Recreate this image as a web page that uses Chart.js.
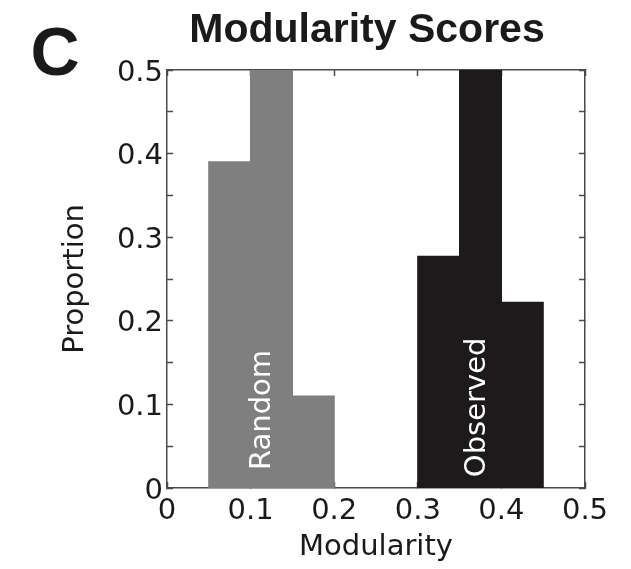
<!DOCTYPE html>
<html>
<head>
<meta charset="utf-8">
<title>Modularity Scores</title>
<script src="https://cdn.jsdelivr.net/npm/chart.js@4.4.1/dist/chart.umd.min.js"></script>
<style>
  html, body { margin: 0; padding: 0; background: #fff; }
  canvas { display: block; }
</style>
</head>
<body>
<canvas id="hist" width="631" height="569"></canvas>
<script>
// histogram bins (centre of each 0.05 wide bin) and proportions
var randomBins    = [0.075, 0.125, 0.175];
var randomProps   = [0.39, 0.50, 0.11];
var observedBins  = [0.325, 0.375, 0.425];
var observedProps = [0.277, 0.50, 0.222];

var seriesNames = ['Random', 'Observed'];
var xRange = [0, 0.5];
var yRange = [0, 0.5];
var yTickLabels = ['0', '0.1', '0.2', '0.3', '0.4', '0.5'];
var xTickLabels = ['0', '0.1', '0.2', '0.3', '0.4', '0.5'];

var chartTitle = 'Modularity Scores';
var panelLetter = 'C';

var axisColor = '#4a4a4a';
var textColor = '#1a1a1a';
var tickFont = { family: '"DejaVu Sans"', size: 29 };

function pin(size) {
    return function(s) {
        if (s.isHorizontal()) s.height = size; else s.width = size;
    };
}

// only every other 0.05 step gets a label
function labelFrom(list) {
    return function(v) {
        var k = Math.round(v * 10);
        if (Math.abs(v * 10 - k) > 1e-6) return '';
        return list[k];
    };
}

function frameAxis(pos, step, size) {
    var horiz = (pos == 'top' || pos == 'bottom');
    return {
        type: 'linear',
        position: pos,
        min: horiz ? xRange[0] : yRange[0],
        max: horiz ? xRange[1] : yRange[1],
        offset: false,
        z: 1,
        ticks: { display: false, stepSize: step },
        grid: { offset: false, drawOnChartArea: false, tickLength: -6, tickColor: axisColor, tickWidth: 1.5, color: axisColor },
        border: { display: true, color: axisColor, width: 1.5 },
        afterFit: pin(size)
    };
}

// title, panel letter and the names written inside the bars
var annotate = {
    id: 'annotate',
    afterDraw: function(chart) {
        var ctx = chart.ctx;
        var xs = chart.scales.x, ys = chart.scales.y;
        ctx.save();
        ctx.fillStyle = textColor;
        ctx.textAlign = 'center';
        ctx.textBaseline = 'alphabetic';
        ctx.font = 'bold 41px "Liberation Sans"';
        ctx.fillText(chartTitle, 367, 42);
        ctx.font = 'bold 68px "Liberation Sans"';
        ctx.fillText(panelLetter, 55, 75);

        var anchors = [[0.123, 0.0215], [0.380, 0.013]];
        ctx.fillStyle = '#ffffff';
        ctx.font = '29px "DejaVu Sans"';
        ctx.textAlign = 'left';
        seriesNames.forEach(function(name, i) {
            ctx.save();
            ctx.translate(xs.getPixelForValue(anchors[i][0]), ys.getPixelForValue(anchors[i][1]));
            ctx.rotate(-Math.PI / 2);
            ctx.fillText(name, 0, 0);
            ctx.restore();
        });
        ctx.restore();
    }
};

var xAxis = frameAxis('bottom', 0.1, 81);
xAxis.ticks = { display: true, stepSize: 0.1, font: tickFont, color: textColor, padding: 12, maxRotation: 0, autoSkip: false, callback: labelFrom(xTickLabels) };
xAxis.title = { display: true, text: 'Modularity', font: tickFont, color: textColor, padding: { top: 0, bottom: 4 } };

var yAxis = frameAxis('left', 0.05, 167);
yAxis.ticks = { display: true, stepSize: 0.05, font: tickFont, color: textColor, padding: 10, labelOffset: 3, autoSkip: false, callback: labelFrom(yTickLabels) };
yAxis.title = { display: true, text: 'Proportion', font: tickFont, color: textColor, padding: { top: 58, bottom: 0 } };

new Chart(document.getElementById('hist'), {
    type: 'bar',
    data: {
        datasets: [
            {
                label: seriesNames[0],
                data: randomBins.map(function(x, i) { return { x: x, y: randomProps[i] }; }),
                backgroundColor: '#7f7f7f',
                borderWidth: 0,
                inflateAmount: 0.6,
                grouped: false,
                barPercentage: 1,
                categoryPercentage: 1
            },
            {
                label: seriesNames[1],
                data: observedBins.map(function(x, i) { return { x: x, y: observedProps[i] }; }),
                backgroundColor: '#1c1a1a',
                borderWidth: 0,
                inflateAmount: 0.6,
                grouped: false,
                barPercentage: 1,
                categoryPercentage: 1
            }
        ]
    },
    options: {
        responsive: false,
        animation: false,
        layout: { padding: { top: 70, left: 0, right: 0, bottom: 0 } },
        plugins: {
            legend: { display: false },
            tooltip: { enabled: false }
        },
        scales: {
            x: xAxis,
            y: yAxis,
            x2: frameAxis('top', 0.1, 0),
            y2: frameAxis('right', 0.05, 46)
        }
    },
    plugins: [annotate]
});
</script>
</body>
</html>
